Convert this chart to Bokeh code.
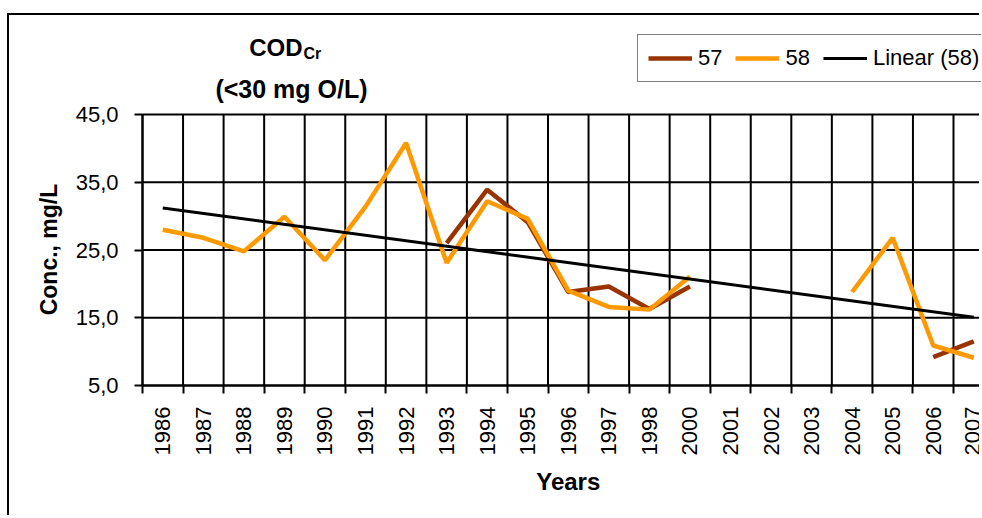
import numpy as np
from bokeh.plotting import figure
from bokeh.models import Range1d, FixedTicker, Label, Legend, LegendItem
from bokeh.embed import file_html
from bokeh.resources import INLINE

nan = float("nan")

# ---- data ----
years = ["1986", "1987", "1988", "1989", "1990", "1991", "1992", "1993", "1994",
         "1995", "1996", "1997", "1998", "2000", "2001", "2002", "2003", "2004",
         "2005", "2006", "2007"]
s57 = [nan, nan, nan, nan, nan, nan, nan, 26.0, 33.9, 29.1, 18.8, 19.6, 16.3,
       19.6, nan, nan, nan, nan, nan, 9.2, 11.5]
s58 = [28.0, 26.8, 24.8, 29.9, 23.5, 31.4, 40.8, 23.1, 32.2, 29.6, 19.0, 16.6,
       16.2, 21.1, nan, nan, nan, 18.8, 26.8, 10.9, 9.1]
y_ticks = [5, 15, 25, 35, 45]
y_tick_labels = ["5,0", "15,0", "25,0", "35,0", "45,0"]
series_names = ["57", "58", "Linear (58)"]

# ---- geometry (page pixels) ----
ML, MT, BW = 7, 13, 2      # css margin-left, margin-top, border width
CX, CY = ML + BW, MT + BW  # canvas origin on the page
W, H = 972, 502
FL, FT, FB = 142, 114, 385  # plot area left / top / bottom on the page
CW = 40.55                  # pixel width of one category
Y0, Y1 = 5, 45
ppu = (FB - FT) / (Y1 - Y0)

def dx(px):
    return (px - FL) / CW

def dy(py):
    return Y1 - (py - FT) / ppu

n = len(years)
idx = np.arange(n)
xc = idx + 0.5
x_end = dx(CX + W)

p = figure(width=W, height=H, output_backend="svg", toolbar_location=None,
           x_range=Range1d(dx(CX), x_end), y_range=Range1d(dy(CY + H), dy(CY)),
           min_border_left=0, min_border_right=0,
           min_border_top=0, min_border_bottom=0)
p.title.visible = False
p.styles = {"border-left": f"{BW}px solid black", "border-top": f"{BW}px solid black",
            "margin-top": f"{MT}px", "margin-left": f"{ML}px"}
p.outline_line_color = None
p.background_fill_color = "white"
p.border_fill_color = "white"
p.grid.visible = False

FONT = "Liberation Sans"

# grid lines (category boundaries and value ticks)
bounds_x = [b for b in range(n + 1) if b <= x_end]
p.segment(x0=bounds_x, x1=bounds_x, y0=[Y0] * len(bounds_x), y1=[Y1] * len(bounds_x),
          line_color="black", line_width=2)
p.segment(x0=[0] * len(y_ticks), x1=[x_end] * len(y_ticks), y0=y_ticks, y1=y_ticks,
          line_color="black", line_width=2)

# x axis: labels at centres, tick marks (minor) at boundaries
xt = FixedTicker(ticks=list(xc), minor_ticks=list(range(n + 1)))
xa = p.xaxis[0]
xa.fixed_location = Y0
xa.bounds = (0, x_end)
xa.ticker = xt
xa.major_label_overrides = {float(x): y for x, y in zip(xc, years)}
xa.major_label_orientation = np.pi / 2
xa.major_tick_out = 0
xa.major_tick_in = 0
xa.minor_tick_out = 8
xa.minor_tick_in = 0
xa.minor_tick_line_color = "black"
xa.minor_tick_line_width = 2
xa.axis_line_width = 2
xa.axis_line_color = "black"
xa.major_label_standoff = 13
xa.major_label_text_font = FONT
xa.major_label_text_font_size = "22px"
xa.major_label_text_color = "black"

# y axis
yt = FixedTicker(ticks=y_ticks, minor_ticks=[])
ya = p.yaxis[0]
ya.fixed_location = 0
ya.bounds = (Y0, Y1)
ya.ticker = yt
ya.major_label_overrides = {t: l for t, l in zip(y_ticks, y_tick_labels)}
ya.major_tick_out = 8
ya.major_tick_in = 0
ya.major_tick_line_width = 2
ya.major_tick_line_color = "black"
ya.minor_tick_line_color = None
ya.axis_line_width = 2
ya.axis_line_color = "black"
ya.major_label_standoff = 16
ya.major_label_text_font = FONT
ya.major_label_text_font_size = "22px"
ya.major_label_text_color = "black"

# series
r57 = p.line(xc, s57, line_color="#993300", line_width=4.5)
r58 = p.line(xc, s58, line_color="#FF9900", line_width=4.5)
m = np.isfinite(np.array(s58))
slope, icpt = np.polyfit(idx[m], np.array(s58)[m], 1)
trend_x = [xc[0], xc[-1]]
trend_y = [icpt + slope * idx[0], icpt + slope * idx[-1]]
rtr = p.line(trend_x, trend_y, line_color="black", line_width=3)

legend = Legend(items=[LegendItem(label=series_names[0], renderers=[r57]),
                       LegendItem(label=series_names[1], renderers=[r58]),
                       LegendItem(label=series_names[2], renderers=[rtr])],
                orientation="horizontal", location=(637 - CX, CY + H - 82),
                label_text_font=FONT, label_text_font_size="22px",
                label_text_color="black",
                glyph_width=44, glyph_height=20, label_standoff=6, spacing=13,
                padding=10, margin=0, border_line_color="black",
                border_line_width=1.5, background_fill_alpha=1.0)
p.add_layout(legend, "center")

def label(px, py, text, size, align="left", baseline="middle", angle=0.0):
    p.add_layout(Label(x=dx(px), y=dy(py), text=text, text_font=FONT,
                       text_font_size=size, text_font_style="bold",
                       text_color="black", text_align=align,
                       text_baseline=baseline, angle=angle))

# titles and axis names
label(302, 47, "COD", "24px", align="right")
label(303, 53, "Cr", "16px")
label(291, 88, "(<30 mg O/L)", "25px", align="center")
label(FL + n / 2 * CW, 481, "Years", "24px", align="center")
label(48, 249, "Conc., mg/L", "23px", align="center", angle=np.pi / 2)

open("out.html", "w").write(file_html(p, INLINE))
